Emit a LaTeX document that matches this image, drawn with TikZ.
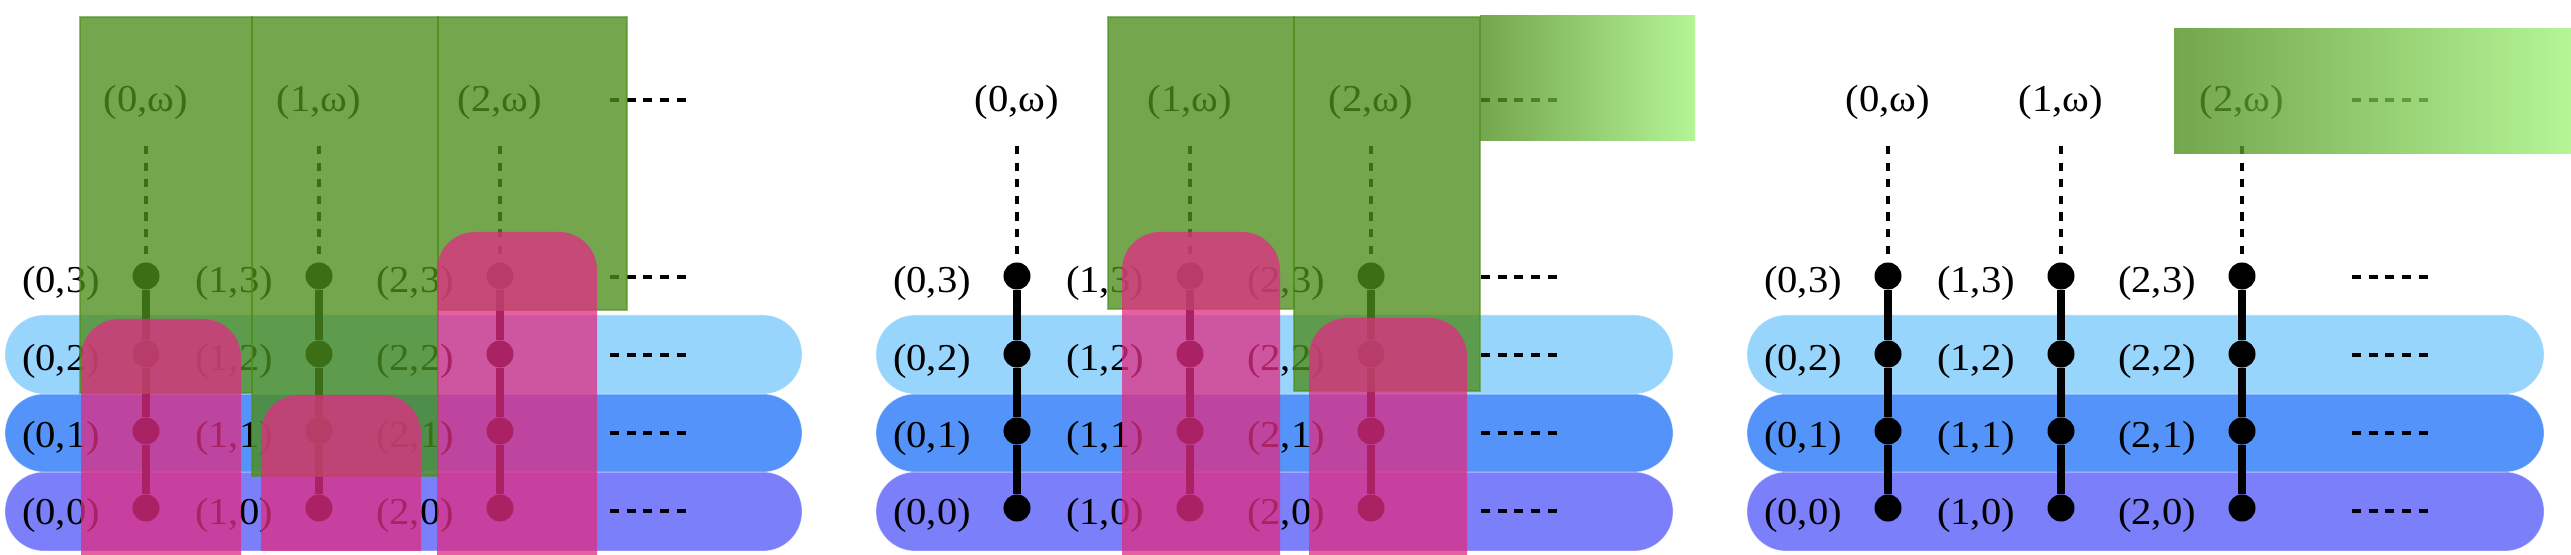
\documentclass[tikz,border=0pt]{standalone}
\usepackage{fontspec}
\setmainfont{Liberation Serif}[FakeStretch=1.07]
\definecolor{lblue}{RGB}{152,213,252}
\definecolor{mblue}{RGB}{84,148,250}
\definecolor{vblue}{RGB}{123,128,250}
\definecolor{ovgreen}{RGB}{77,141,27}
\definecolor{ovlight}{RGB}{159,242,120}
\definecolor{ovpink}{RGB}{224,45,131}
\begin{document}
\begin{tikzpicture}[x=0.01cm,y=-0.01cm,
  rowbar/.style={fill=#1, draw=white, draw opacity=0.5, line width=0.2pt, rounded corners=0.39cm},
  dotnode/.style={circle, fill=black, inner sep=0pt, minimum size=0.27cm},
  lab/.style={inner sep=0pt, text=black, font=\fontsize{10.8pt}{13pt}\selectfont},
  vsolid/.style={line width=2.36pt},
  vdash/.style={line width=1.22pt, dash pattern=on 2.36pt off 2.36pt, shorten <=0.26cm},
  hdash/.style={line width=1.22pt, dash pattern=on 2.56pt off 2.19pt},
  greenov/.style={fill=ovgreen, fill opacity=0.78, draw=ovgreen, draw opacity=0.6, line width=0.3pt},
  pinkov/.style={fill=ovpink, fill opacity=0.76, rounded corners=0.38cm},
  fadeov/.style={left color=ovgreen, right color=ovlight, opacity=0.78}
]
\useasboundingbox (0,0) rectangle (2571,555);

\foreach \p/\ox in {1/0,2/871,3/1742}{
  % row bars
  \path[rowbar=vblue] (\ox+5,472) rectangle (\ox+802,551);
  \path[rowbar=mblue] (\ox+5,394) rectangle (\ox+802,472);
  \path[rowbar=lblue] (\ox+5,315) rectangle (\ox+802,394);
  % columns
  \foreach \c/\cx in {0/146,1/319,2/500}{
    \node[lab] (w\p\c) at (\ox+\cx,102) {(\c,ω)};
    \foreach \r/\y in {0/508,1/431,2/354,3/276}{
      \node[dotnode] (d\p\c\r) at (\ox+\cx,\y) {};
      \node[lab] (l\p\c\r) at (\ox+\cx-85,\y+7) {(\c,\r)};
    }
    \draw[vsolid] (d\p\c0) -- (d\p\c1) (d\p\c1) -- (d\p\c2) (d\p\c2) -- (d\p\c3);
    \draw[vdash] (w\p\c) -- (d\p\c3);
  }
  % continuation dashes
  \foreach \r/\y in {w/100,3/277,2/355,1/433,0/511}{
    \coordinate (ea\p\r) at (\ox+610,\y);
    \coordinate (eb\p\r) at (\ox+686,\y);
    \draw[hdash] (ea\p\r) -- (eb\p\r);
  }
}

% panel 1 overlays
\path[greenov] (80,17) rectangle (252,393);
\path[greenov] (252,17) rectangle (438,476);
\path[greenov] (438,17) rectangle (627,310);
\path[pinkov] (81,319) rectangle (241,620);
\begin{scope}
  \clip (0,0) rectangle (2571,551);
  \path[pinkov] (261,395) rectangle (421,620);
\end{scope}
\path[pinkov] (437,232) rectangle (597,620);

% panel 2 overlays
\path[greenov] (1108,17) rectangle (1294,309);
\path[greenov] (1294,17) rectangle (1480,391);
\shade[fadeov] (1480,16) rectangle (1695,141);
\path[pinkov] (1122,232) rectangle (1280,620);
\path[pinkov] (1309,318) rectangle (1467,620);

% panel 3 overlay
\shade[fadeov] (2174,29) rectangle (2571,154);
\end{tikzpicture}
\end{document}
